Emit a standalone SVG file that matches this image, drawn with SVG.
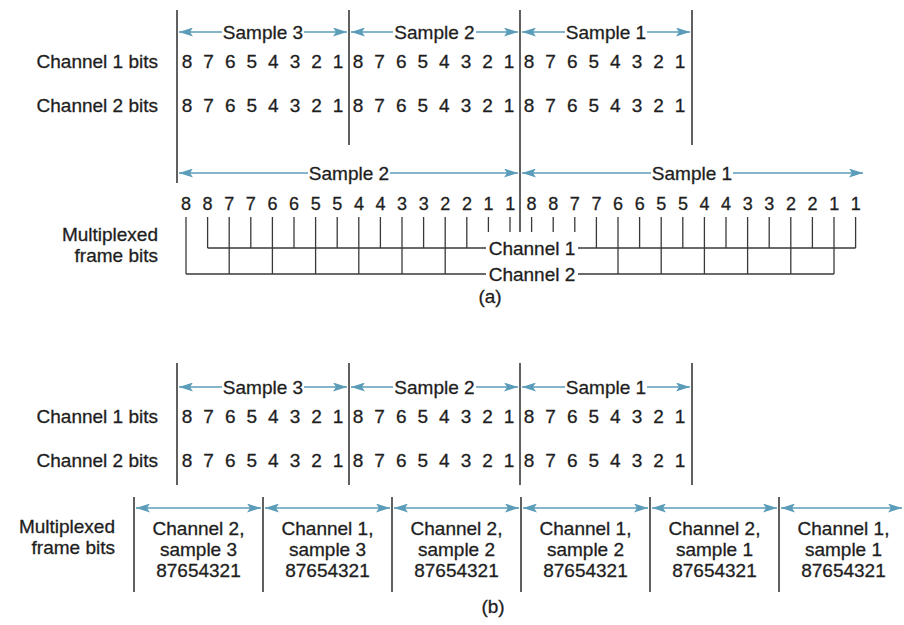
<svg xmlns="http://www.w3.org/2000/svg" width="904" height="625" viewBox="0 0 904 625">
<style>
text{font-family:"Liberation Sans",Arial,sans-serif;font-size:19px;fill:#1e1e1e;stroke:#1e1e1e;stroke-width:0.3px}
.r{text-anchor:end}
.m{text-anchor:middle}
.d{letter-spacing:2.875px}
.md{font-size:18px;letter-spacing:3.3px}
.bar{stroke:#3a3a3a;stroke-width:1.6;fill:none}
.tk{stroke:#3a3a3a;stroke-width:1.3;fill:none}
.ar{stroke:#5b9cb8;stroke-width:1.5;fill:none}
.as{marker-start:url(#ah)}
.ae{marker-end:url(#ah)}
</style>
<defs>
<marker id="ah" viewBox="0 0 14 9" refX="14" refY="4.5" markerWidth="14" markerHeight="9" markerUnits="userSpaceOnUse" orient="auto-start-reverse">
<path d="M0,0 L14,4.5 L0,9 L3,4.5 z" fill="#5b9cb8"/>
</marker>
</defs>
<rect width="904" height="625" fill="#fff"/>

<!-- (a) -->
<g id="a-labels">
<text class="r" x="158" y="68">Channel 1 bits</text>
<text class="r" x="158" y="112">Channel 2 bits</text>
<text class="r" x="158" y="241">Multiplexed</text>
<text class="r" x="158" y="262">frame bits</text>
<text class="m" x="490" y="303">(a)</text>
</g>
<g id="a-bars">
<path class="bar" d="M177,10V183 M349,10V145 M520,10V232 M692,10V145"/>
</g>
<g id="a-ch1">
<text class="d" x="181.7" y="68">8 7 6 5 4 3 2 1</text>
<text class="d" x="352.7" y="68">8 7 6 5 4 3 2 1</text>
<text class="d" x="523.7" y="68">8 7 6 5 4 3 2 1</text>
</g>
<g id="a-ch2">
<text class="d" x="181.7" y="112">8 7 6 5 4 3 2 1</text>
<text class="d" x="352.7" y="112">8 7 6 5 4 3 2 1</text>
<text class="d" x="523.7" y="112">8 7 6 5 4 3 2 1</text>
</g>
<g id="a-samples">
<path class="ar as" d="M179,32H222"/><path class="ar ae" d="M304,32H347"/>
<text class="m" x="263" y="39">Sample 3</text>
<path class="ar as" d="M351,32H393"/><path class="ar ae" d="M476,32H518"/>
<text class="m" x="434.5" y="39">Sample 2</text>
<path class="ar as" d="M522,32H565"/><path class="ar ae" d="M647,32H690"/>
<text class="m" x="606" y="39">Sample 1</text>
<path class="ar as" d="M179,173H308"/><path class="ar ae" d="M390,173H518"/>
<text class="m" x="349" y="180">Sample 2</text>
<path class="ar as" d="M522,173H651"/><path class="ar ae" d="M733,173H863"/>
<text class="m" x="692" y="180">Sample 1</text>
</g>
<g id="a-mux">
<text class="md" x="181" y="210">8 8 7 7 6 6 5 5 4 4 3 3 2 2 1 1</text>
<text class="md" x="526.6" y="210">8 8 7 7 6 6 5 5 4 4 3 3 2 2 1 1</text>
<text class="m" x="532" y="255">Channel 1</text>
<text class="m" x="532" y="281">Channel 2</text>
</g>
<g id="connectors">
<path class="tk" d="M207.6,217V248 M250.8,217V248 M294,217V248 M337.2,217V248 M380.4,217V248 M423.6,217V248 M466.8,217V248 M596.4,217V248 M639.6,217V248 M682.8,217V248 M726,217V248 M769.2,217V248 M812.4,217V248 M855.6,217V248"/>
<path class="tk" d="M186,217V274 M229.2,217V274 M272.4,217V274 M315.6,217V274 M358.8,217V274 M402,217V274 M445.2,217V274 M618,217V274 M661.2,217V274 M704.4,217V274 M747.6,217V274 M790.8,217V274 M834,217V274"/>
<path class="tk" d="M488.4,217V232 M510,217V232 M531.6,217V232 M553.2,217V232 M574.8,217V232"/>
<path class="tk" d="M207.6,248H486 M578,248H855.6 M186,274H486 M578,274H834"/>
</g>

<!-- (b) -->
<g id="b-labels">
<text class="r" x="158" y="423">Channel 1 bits</text>
<text class="r" x="158" y="467">Channel 2 bits</text>
<text class="r" x="115" y="533">Multiplexed</text>
<text class="r" x="115" y="554">frame bits</text>
<text class="m" x="493" y="613">(b)</text>
</g>
<g id="b-bars">
<path class="bar" d="M177,363V485 M349,363V485 M520,363V485 M692,363V485"/>
</g>
<g id="b-ch1">
<text class="d" x="181.7" y="423">8 7 6 5 4 3 2 1</text>
<text class="d" x="352.7" y="423">8 7 6 5 4 3 2 1</text>
<text class="d" x="523.7" y="423">8 7 6 5 4 3 2 1</text>
</g>
<g id="b-ch2">
<text class="d" x="181.7" y="467">8 7 6 5 4 3 2 1</text>
<text class="d" x="352.7" y="467">8 7 6 5 4 3 2 1</text>
<text class="d" x="523.7" y="467">8 7 6 5 4 3 2 1</text>
</g>
<g id="b-samples">
<path class="ar as" d="M179,387H222"/><path class="ar ae" d="M304,387H347"/>
<text class="m" x="263" y="394">Sample 3</text>
<path class="ar as" d="M351,387H393"/><path class="ar ae" d="M476,387H518"/>
<text class="m" x="434.5" y="394">Sample 2</text>
<path class="ar as" d="M522,387H565"/><path class="ar ae" d="M647,387H690"/>
<text class="m" x="606" y="394">Sample 1</text>
</g>
<g id="b-frame">
<path class="bar" d="M134,497V592 M263,497V592 M392,497V592 M521,497V592 M650,497V592 M779,497V592"/>
<path class="ar as ae" d="M136,508H261"/>
<path class="ar as ae" d="M265,508H390"/>
<path class="ar as ae" d="M394,508H519"/>
<path class="ar as ae" d="M523,508H648"/>
<path class="ar as ae" d="M652,508H777"/>
<path class="ar as ae" d="M781,508H902"/>
</g>
<g id="b-slot1"><text class="m" x="198.5" y="535">Channel 2,</text><text class="m" x="198.5" y="556">sample 3</text><text class="m" x="198.5" y="577">87654321</text></g>
<g id="b-slot2"><text class="m" x="327.5" y="535">Channel 1,</text><text class="m" x="327.5" y="556">sample 3</text><text class="m" x="327.5" y="577">87654321</text></g>
<g id="b-slot3"><text class="m" x="456.5" y="535">Channel 2,</text><text class="m" x="456.5" y="556">sample 2</text><text class="m" x="456.5" y="577">87654321</text></g>
<g id="b-slot4"><text class="m" x="585.5" y="535">Channel 1,</text><text class="m" x="585.5" y="556">sample 2</text><text class="m" x="585.5" y="577">87654321</text></g>
<g id="b-slot5"><text class="m" x="714.5" y="535">Channel 2,</text><text class="m" x="714.5" y="556">sample 1</text><text class="m" x="714.5" y="577">87654321</text></g>
<g id="b-slot6"><text class="m" x="843.5" y="535">Channel 1,</text><text class="m" x="843.5" y="556">sample 1</text><text class="m" x="843.5" y="577">87654321</text></g>
</svg>
